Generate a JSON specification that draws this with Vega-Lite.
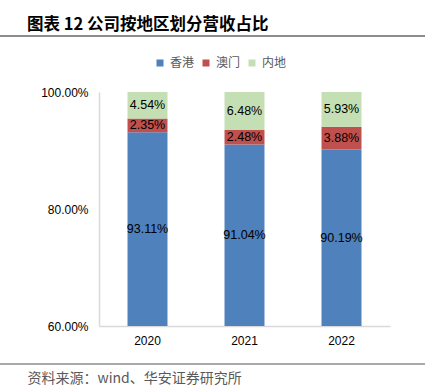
{
  "$schema": "https://vega.github.io/schema/vega-lite/v6.json",
  "width": 291,
  "height": 234,
  "autosize": {"type": "none"},
  "padding": {"left": 99, "top": 92, "right": 35, "bottom": 63},
  "background": "white",
  "config": {"view": {"stroke": null}, "font": "Liberation Sans"},
  "title": {
    "text": "图表 12  公司按地区划分营收占比",
    "anchor": "start",
    "frame": "group",
    "dx": -72,
    "offset": -6,
    "baseline": "middle",
    "font": "Noto Sans CJK SC",
    "fontSize": 16.5,
    "fontWeight": "bold",
    "color": "#000000"
  },
  "layer": [
    {
      "data": {
        "values": [
          {"year": "2020", "region": "香港", "value": 93.11},
          {"year": "2020", "region": "澳门", "value": 2.35},
          {"year": "2020", "region": "内地", "value": 4.54},
          {"year": "2021", "region": "香港", "value": 91.04},
          {"year": "2021", "region": "澳门", "value": 2.48},
          {"year": "2021", "region": "内地", "value": 6.48},
          {"year": "2022", "region": "香港", "value": 90.19},
          {"year": "2022", "region": "澳门", "value": 3.88},
          {"year": "2022", "region": "内地", "value": 5.93}
        ]
      },
      "transform": [
        {"calculate": "indexof(['香港','澳门','内地'], datum.region)", "as": "ord"},
        {"stack": "value", "groupby": ["year"], "sort": [{"field": "ord", "order": "ascending"}], "as": ["v0", "v1"]},
        {"calculate": "(max(datum.v0, 60) + datum.v1) / 2", "as": "mid"},
        {"calculate": "format(datum.value, '.2f') + '%'", "as": "lbl"}
      ],
      "layer": [
        {
          "mark": {"type": "bar", "clip": true},
          "encoding": {
            "x": {
              "field": "year",
              "type": "nominal",
              "scale": {"paddingInner": 0.588, "paddingOuter": 0.294},
              "axis": {
                "labelAngle": 0,
                "ticks": false,
                "domainColor": "#D9D9D9",
                "domainWidth": 1.5,
                "labelFontSize": 12,
                "labelColor": "#000000",
                "labelPadding": 9,
                "title": "资料来源：wind、华安证券研究所",
                "titleFont": "Noto Sans CJK SC",
                "titleFontSize": 14,
                "titleFontWeight": "normal",
                "titleColor": "#595959",
                "titleAlign": "left",
                "titleBaseline": "middle",
                "titleAnchor": "start",
                "titleX": -72,
                "titleY": 52
              }
            },
            "y": {
              "field": "v1",
              "type": "quantitative",
              "scale": {"domain": [60, 100], "nice": false, "zero": false},
              "axis": {
                "values": [60, 80, 100],
                "labelExpr": "format(datum.value, '.2f') + '%'",
                "ticks": false,
                "grid": false,
                "domainColor": "#D9D9D9",
                "domainWidth": 1.5,
                "labelFontSize": 12,
                "labelColor": "#000000",
                "labelPadding": 11,
                "title": null
              }
            },
            "y2": {"field": "v0"},
            "color": {
              "field": "region",
              "type": "nominal",
              "scale": {"domain": ["香港", "澳门", "内地"], "range": ["#4F81BD", "#C0504D", "#C4DFB3"]},
              "legend": {
                "title": null,
                "orient": "none",
                "direction": "horizontal",
                "legendX": 55,
                "legendY": -35,
                "symbolType": "square",
                "symbolSize": 49,
                "symbolStrokeWidth": 0,
                "labelFont": "Noto Sans CJK SC",
                "labelFontSize": 12,
                "labelColor": "#595959",
                "labelOffset": 4,
                "columnPadding": 5
              }
            }
          }
        },
        {
          "mark": {"type": "text", "fontSize": 12.5, "color": "#000000", "baseline": "middle", "align": "center"},
          "encoding": {
            "x": {"field": "year", "type": "nominal"},
            "y": {"field": "mid", "type": "quantitative"},
            "text": {"field": "lbl"}
          }
        }
      ]
    },
    {
      "data": {"values": [{"line": "top"}]},
      "mark": {"type": "rule", "color": "#8C8C8C", "strokeWidth": 2},
      "encoding": {
        "x": {"datum": -0.3402, "type": "quantitative", "scale": {"domain": [0, 1], "nice": false, "zero": false}, "axis": null},
        "x2": {"datum": 1.1203},
        "y": {"datum": 109.57, "type": "quantitative", "scale": {"domain": [60, 100], "nice": false, "zero": false}}
      }
    },
    {
      "data": {"values": [{"line": "bottom"}]},
      "mark": {"type": "rule", "color": "#8C8C8C", "strokeWidth": 1.5},
      "encoding": {
        "x": {"datum": -0.3402, "type": "quantitative", "scale": {"domain": [0, 1], "nice": false, "zero": false}, "axis": null},
        "x2": {"datum": 1.1203},
        "y": {"datum": 53.5, "type": "quantitative", "scale": {"domain": [60, 100], "nice": false, "zero": false}}
      }
    }
  ],
  "resolve": {"scale": {"x": "independent"}}
}
